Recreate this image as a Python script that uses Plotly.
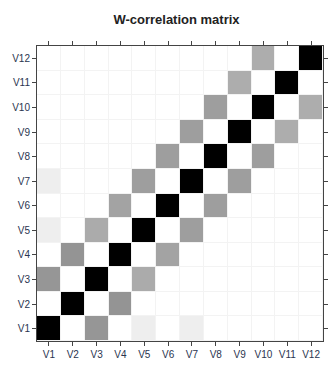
import plotly.graph_objects as go

labels = ["V1", "V2", "V3", "V4", "V5", "V6", "V7", "V8", "V9", "V10", "V11", "V12"]
# off-diagonal W-correlations (i, j, value), 1-based component indices
pairs_i = [1, 2, 3, 4, 5, 6, 7, 8, 9, 10, 1, 1]
pairs_j = [3, 4, 5, 6, 7, 8, 9, 10, 11, 12, 5, 7]
pairs_w = [0.41, 0.42, 0.33, 0.36, 0.38, 0.38, 0.38, 0.38, 0.32, 0.32, 0.065, 0.065]

n = len(labels)
z = [[0.0] * n for _ in range(n)]
for k in range(n):
    z[k][k] = 1.0
for i, j, w in zip(pairs_i, pairs_j, pairs_w):
    z[i - 1][j - 1] = w
    z[j - 1][i - 1] = w

fig = go.Figure(go.Heatmap(
    z=z, x=labels, y=labels,
    colorscale=[[0, "#ffffff"], [1, "#000000"]],
    zmin=0, zmax=1, showscale=False, xgap=1, ygap=1,
    hoverongaps=False,
))

axis_common = dict(
    showline=True, linecolor="#444", linewidth=1, mirror="ticks",
    ticks="outside", ticklen=4, tickcolor="#444",
    tickfont=dict(family="Liberation Sans, Arial", size=10, color="#2a3550"),
    showgrid=False, zeroline=False,
)
fig.update_xaxes(**axis_common, type="category")
fig.update_yaxes(**axis_common, type="category")

fig.update_layout(
    width=333, height=365,
    margin=dict(l=37, r=5, t=46, b=22),
    plot_bgcolor="#f3f3f3", paper_bgcolor="white",
    title=dict(text="<b>W-correlation matrix</b>", x=0.53, xanchor="center", y=0.96,
               font=dict(family="Liberation Sans, Arial", size=13, color="#222")),
)

fig.write_html("out.html")
